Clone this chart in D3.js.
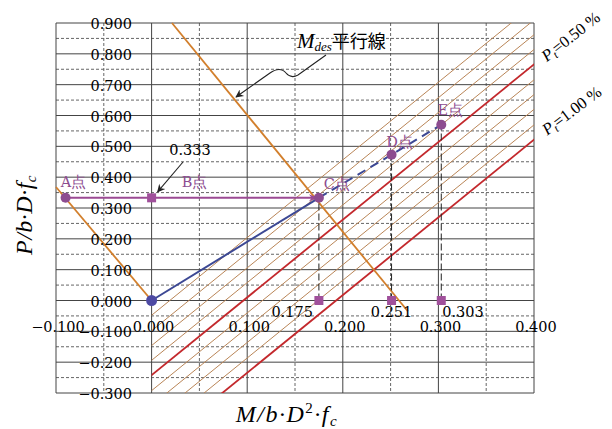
<!DOCTYPE html>
<meta charset="utf-8">
<style>
    body { margin: 0; background: #fff; }
    text { font-family: "DejaVu Serif", "Liberation Serif", serif; }
    .major { stroke: #444; stroke-width: 1px; }
    .minor { stroke: #666; stroke-width: 1px; stroke-dasharray: 3,2; }
    .hatch { stroke: #b98557; stroke-width: 1px; fill: none; }
    .hatch.red { stroke: #c3282c; stroke-width: 1.8px; }
</style>
<body>
<script src="https://d3js.org/d3.v7.min.js"></script>
<script>
    var width = 612,
        height = 429;

    // grid / ticks
    var xMajor = [-0.1, 0, 0.1, 0.2, 0.3, 0.4];
    var xMinor = [-0.05, 0.05, 0.15, 0.25, 0.35];
    var yMajor = [-0.3, -0.2, -0.1, 0, 0.1, 0.2, 0.3, 0.4, 0.5, 0.6, 0.7, 0.8, 0.9];
    var yMinor = [-0.25, -0.15, -0.05, 0.05, 0.15, 0.25, 0.35, 0.45, 0.55, 0.65, 0.75, 0.85];
    var xTickLabels = ["\u22120.100", "0.000", "0.100", "0.200", "0.300", "0.400"];
    var yTickLabels = ["\u22120.300", "\u22120.200", "\u22120.100", "0.000", "0.100", "0.200", "0.300",
                       "0.400", "0.500", "0.600", "0.700", "0.800", "0.900"];

    // pt lines: M value where each line crosses P = 0, and common slope dP/dM
    var ptValues = [0.1, 0.2, 0.3, 0.4, 0.5, 0.6, 0.7, 0.8, 0.9, 1.0];
    var ptZeroM  = [0.019, 0.039, 0.058, 0.077, 0.096, 0.116, 0.135, 0.154, 0.174, 0.193];
    var ptSlope  = 2.52;

    // M_des parallel lines (orange)
    var mdesLine1 = [[-0.1, 0.368], [0, 0]];
    var mdesLine2 = [[0.0213, 0.9], [0.268, -0.035]];

    // named points
    var pointNames = ["A点", "B点", "C点", "D点", "E点"];
    var pointM = [-0.09, 0, 0.175, 0.251, 0.303];
    var pointP = [0.333, 0.333, 0.333, 0.473, 0.570];

    var footM = [0.175, 0.251, 0.303];
    var footLabels = ["0.175", "0.251", "0.303"];

    var x = d3.scaleLinear().domain([-0.1, 0.4]).range([56, 534]);
    var y = d3.scaleLinear().domain([-0.3, 0.9]).range([393, 23]);

    var svg = d3.select("body").append("svg")
        .attr("width", width)
        .attr("height", height);

    var defs = svg.append("defs");
    defs.append("clipPath").attr("id", "hatchClip")
        .append("rect")
        .attr("x", x(0)).attr("y", y(0.9))
        .attr("width", x(0.4) - x(0)).attr("height", y(-0.3) - y(0.9));
    defs.append("marker").attr("id", "arrBlack")
        .attr("viewBox", "0 0 10 10").attr("refX", 9).attr("refY", 5)
        .attr("markerWidth", 10).attr("markerHeight", 8)
        .attr("markerUnits", "userSpaceOnUse")
        .attr("orient", "auto")
        .append("path").attr("d", "M0,0 L10,5 L0,10 L3,5 Z").attr("fill", "#222");
    defs.append("marker").attr("id", "arrPurple")
        .attr("viewBox", "0 0 10 10").attr("refX", 10).attr("refY", 5)
        .attr("markerWidth", 14).attr("markerHeight", 9)
        .attr("markerUnits", "userSpaceOnUse")
        .attr("orient", "auto")
        .append("path").attr("d", "M0,1 L10,5 L0,9 L3,5 Z").attr("fill", "#9b4a93");

    // grid
    var g = svg.append("g");
    g.selectAll(".vminor").data(xMinor).enter().append("line")
        .attr("class", "minor")
        .attr("x1", d => x(d)).attr("x2", d => x(d))
        .attr("y1", y(0.9)).attr("y2", y(-0.3));
    g.selectAll(".hminor").data(yMinor).enter().append("line")
        .attr("class", "minor")
        .attr("y1", d => y(d)).attr("y2", d => y(d))
        .attr("x1", x(-0.1)).attr("x2", x(0.4));
    g.selectAll(".vmajor").data(xMajor).enter().append("line")
        .attr("class", "major")
        .attr("x1", d => x(d)).attr("x2", d => x(d))
        .attr("y1", y(0.9)).attr("y2", y(-0.3));
    g.selectAll(".hmajor").data(yMajor).enter().append("line")
        .attr("class", "major")
        .attr("y1", d => y(d)).attr("y2", d => y(d))
        .attr("x1", x(-0.1)).attr("x2", x(0.4));

    // hatch lines
    var hatch = svg.append("g").attr("clip-path", "url(#hatchClip)");
    hatch.selectAll("line").data(ptValues).enter().append("line")
        .attr("class", d => (d === 0.5 || d === 1.0) ? "hatch red" : "hatch")
        .attr("x1", (d, i) => x(ptZeroM[i] + (-0.6) / ptSlope))
        .attr("y1", y(-0.6))
        .attr("x2", (d, i) => x(ptZeroM[i] + 1.2 / ptSlope))
        .attr("y2", y(1.2));

    // M_des lines
    var line = d3.line().x(d => x(d[0])).y(d => y(d[1]));
    svg.selectAll(".mdes").data([mdesLine1, mdesLine2]).enter().append("path")
        .attr("d", line)
        .attr("fill", "none")
        .attr("stroke", "#d27f2c")
        .attr("stroke-width", 1.8);

    // vertical dashed drops
    svg.selectAll(".drop").data(footM).enter().append("line")
        .attr("x1", d => x(d)).attr("x2", d => x(d))
        .attr("y1", y(0)).attr("y2", (d, i) => y(pointP[i + 2]))
        .attr("stroke", "#222").attr("stroke-width", 1)
        .attr("stroke-dasharray", "7,3");

    // A -> C horizontal (purple)
    svg.append("line")
        .attr("x1", x(pointM[0])).attr("y1", y(pointP[0]))
        .attr("x2", x(pointM[2]) - 1).attr("y2", y(pointP[2]))
        .attr("stroke", "#9b4a93").attr("stroke-width", 2)
        .attr("marker-end", "url(#arrPurple)");

    // origin -> C solid, C -> D -> E dashed (blue)
    svg.append("path")
        .attr("d", line([[0, 0], [pointM[2], pointP[2]]]))
        .attr("fill", "none").attr("stroke", "#3c4894").attr("stroke-width", 2);
    svg.append("path")
        .attr("d", line([[pointM[2], pointP[2]], [pointM[3], pointP[3]], [pointM[4], pointP[4]]]))
        .attr("fill", "none").attr("stroke", "#3c4894").attr("stroke-width", 2)
        .attr("stroke-dasharray", "9,6");

    // annotation arrows
    svg.append("path")
        .attr("d", "M326,55 L298,75 Q291,79 286,73 Q280,66 270,73 L236,97")
        .attr("fill", "none").attr("stroke", "#222").attr("stroke-width", 1.1)
        .attr("marker-end", "url(#arrBlack)");
    svg.append("line")
        .attr("x1", 183).attr("y1", 162)
        .attr("x2", x(0) + 6).attr("y2", y(0.333) - 6)
        .attr("stroke", "#222").attr("stroke-width", 1.1)
        .attr("marker-end", "url(#arrBlack)");

    // markers
    svg.selectAll(".foot").data(footM).enter().append("rect")
        .attr("x", d => x(d) - 4.5).attr("y", y(0) - 4.5)
        .attr("width", 9).attr("height", 9)
        .attr("fill", "#a0509b");
    svg.append("rect")
        .attr("x", x(pointM[1]) - 4.5).attr("y", y(pointP[1]) - 4.5)
        .attr("width", 9).attr("height", 9)
        .attr("fill", "#a0509b");
    svg.selectAll(".pt").data([0, 2, 3, 4]).enter().append("circle")
        .attr("cx", i => x(pointM[i])).attr("cy", i => y(pointP[i]))
        .attr("r", 5)
        .attr("fill", "#8d4c90");
    svg.append("circle")
        .attr("cx", x(0)).attr("cy", y(0)).attr("r", 5.5)
        .attr("fill", "#4d4aa3");

    // tick labels
    svg.selectAll(".xl").data(xMajor).enter().append("text")
        .attr("x", d => x(d) + 2).attr("y", y(0) + 31)
        .attr("text-anchor", "middle")
        .attr("font-size", 14.5)
        .text((d, i) => xTickLabels[i]);
    svg.selectAll(".yl").data(yMajor).enter().append("text")
        .attr("x", 132).attr("y", d => y(d) + 6)
        .attr("text-anchor", "end")
        .attr("font-size", 14.5)
        .text((d, i) => yTickLabels[i]);

    // foot labels
    var footAnchor = ["end", "middle", "start"];
    var footDx = [-6, 0, 1];
    svg.selectAll(".fl").data(footM).enter().append("text")
        .attr("x", (d, i) => x(d) + footDx[i]).attr("y", y(0) + 16)
        .attr("text-anchor", (d, i) => footAnchor[i])
        .attr("font-size", 14.5)
        .text((d, i) => footLabels[i]);

    svg.append("text")
        .attr("x", 190).attr("y", 155)
        .attr("text-anchor", "middle")
        .attr("font-size", 14.5)
        .text("0.333");

    // point labels
    var labDx = [8, 43, 18, 8, 9];
    var labDy = [-11, -11, -9, -8, -10];
    svg.selectAll(".pl").data(pointNames).enter().append("text")
        .attr("x", (d, i) => x(pointM[i]) + labDx[i])
        .attr("y", (d, i) => y(pointP[i]) + labDy[i])
        .attr("text-anchor", "middle")
        .attr("font-size", 14.5)
        .attr("fill", "#8d4c90")
        .text(d => d);

    // M_des label
    var md = svg.append("text").attr("x", 297).attr("y", 48).attr("font-size", 21)
        .style("font-family", "'Liberation Serif', serif");
    md.append("tspan").attr("font-style", "italic").text("M");
    md.append("tspan").attr("font-style", "italic").attr("font-size", 13).attr("dy", 3).text("des");
    md.append("tspan").attr("dy", -3).attr("font-size", 18)
        .style("font-family", "'Noto Sans CJK JP', sans-serif").text("平行線");

    // pt labels
    var ptLab = [["0.50", 571, 37, -38], ["1.00", 572, 111, -37]];
    ptLab.forEach(function (p) {
        var t = svg.append("text")
            .attr("transform", "translate(" + p[1] + "," + p[2] + ") rotate(" + p[3] + ")")
            .attr("text-anchor", "middle").attr("dy", 5)
            .style("font-family", "'Liberation Serif', serif")
            .attr("font-size", 16.5);
        t.append("tspan").attr("font-style", "italic").text("P");
        t.append("tspan").attr("font-style", "italic").attr("font-size", 11).attr("dy", 3).text("t");
        t.append("tspan").attr("dy", -3).text("=" + p[0] + " %");
    });

    // axis titles
    var yt = svg.append("text")
        .attr("transform", "translate(32,215) rotate(-90)")
        .attr("text-anchor", "middle")
        .style("font-family", "'Liberation Serif', serif")
        .attr("font-size", 24).attr("font-style", "italic")
        .attr("letter-spacing", 0.5);
    yt.append("tspan").text("P/b\u00b7D\u00b7f");
    yt.append("tspan").attr("font-size", 15).attr("dy", 4).text("c");

    var xt = svg.append("text")
        .attr("x", 287).attr("y", 422)
        .attr("text-anchor", "middle")
        .style("font-family", "'Liberation Serif', serif")
        .attr("font-size", 24).attr("font-style", "italic")
        .attr("letter-spacing", 1.5);
    xt.append("tspan").text("M/b\u00b7D");
    xt.append("tspan").attr("font-size", 15).attr("font-style", "normal").attr("dy", -9).text("2");
    xt.append("tspan").attr("dy", 9).text("\u00b7f");
    xt.append("tspan").attr("font-size", 15).attr("dy", 4).text("c");
</script>
</body>
